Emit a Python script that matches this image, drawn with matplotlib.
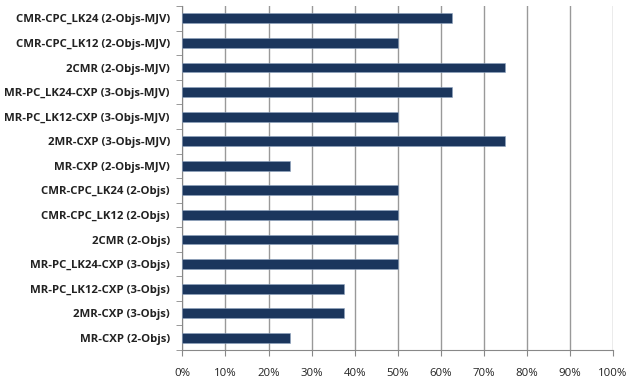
import matplotlib.pyplot as plt
import numpy as np
from matplotlib.ticker import PercentFormatter

labels = ['CMR-CPC_LK24 (2-Objs-MJV)', 'CMR-CPC_LK12 (2-Objs-MJV)', '2CMR (2-Objs-MJV)',
          'MR-PC_LK24-CXP (3-Objs-MJV)', 'MR-PC_LK12-CXP (3-Objs-MJV)', '2MR-CXP (3-Objs-MJV)',
          'MR-CXP (2-Objs-MJV)', 'CMR-CPC_LK24 (2-Objs)', 'CMR-CPC_LK12 (2-Objs)', '2CMR (2-Objs)',
          'MR-PC_LK24-CXP (3-Objs)', 'MR-PC_LK12-CXP (3-Objs)', '2MR-CXP (3-Objs)', 'MR-CXP (2-Objs)']
values = [62.5, 50, 75, 62.5, 50, 75, 25, 50, 50, 50, 50, 37.5, 37.5, 25]

plt.rcParams['font.family'] = ['Open Sans', 'DejaVu Sans']

fig = plt.figure(figsize=(6.29, 3.83), dpi=100)
ax = fig.add_axes([0.290, 0.086, 0.6846, 0.898])

y = np.arange(len(labels))
ax.barh(y, values, height=0.4, color='#1b365d', edgecolor='#8ea3c0', linewidth=0.4, zorder=3)

ax.set_xlim(0, 100)
ax.set_ylim(len(labels) - 0.5, -0.5)
ax.set_xticks(np.arange(0, 101, 10))
ax.xaxis.set_major_formatter(PercentFormatter(decimals=0))
ax.grid(axis='x', color='#999999', linewidth=1.0, zorder=0)

ax.set_yticks(y)
ax.set_yticklabels(labels, fontsize=8.2, fontweight='bold', color='#222222')
ax.set_yticks(np.arange(-0.5, len(labels), 1), minor=True)
ax.tick_params(axis='y', which='major', length=0, pad=9)
ax.tick_params(axis='y', which='minor', length=4, color='#888888')
ax.tick_params(axis='x', length=4, color='#888888', labelsize=8.2, pad=9, labelcolor='#222222')

for side in ['top', 'right']:
    ax.spines[side].set_visible(False)
ax.spines['left'].set_color('#888888')
ax.spines['bottom'].set_color('#888888')

fig.savefig('out.png', dpi=100)
